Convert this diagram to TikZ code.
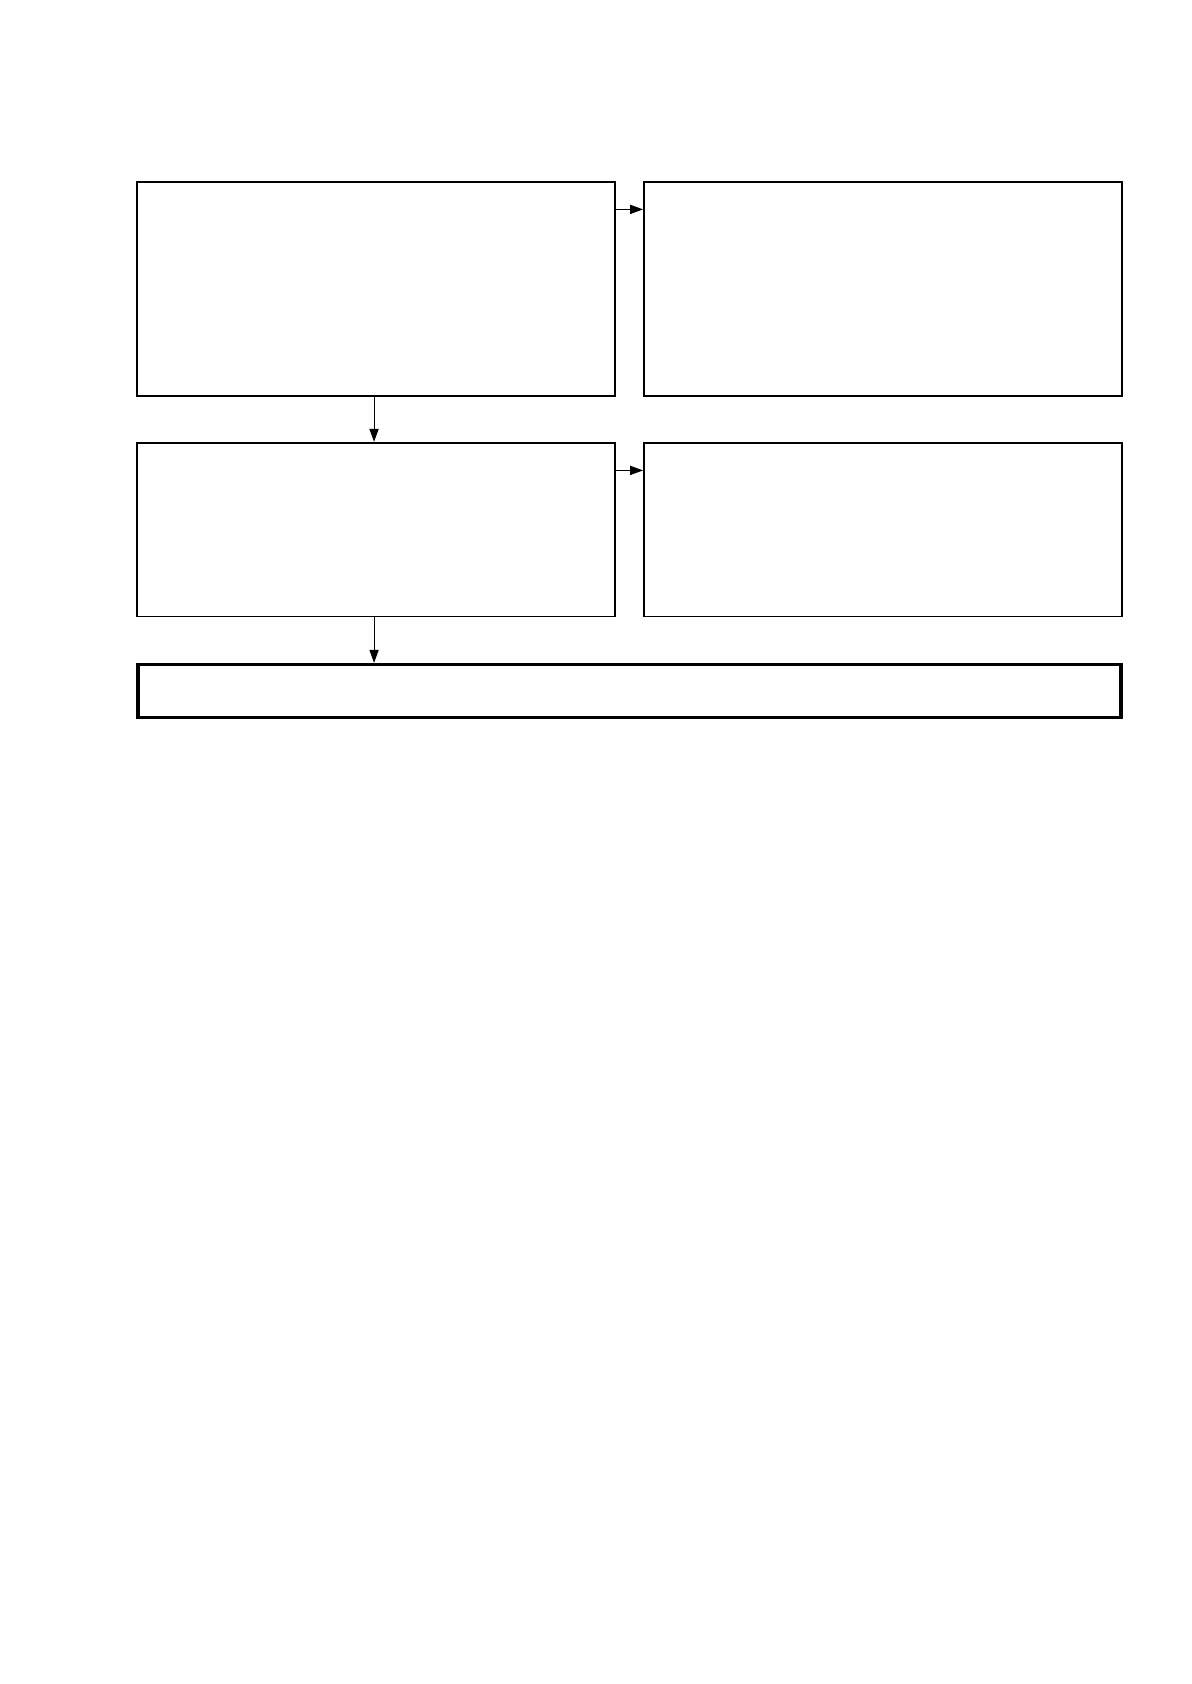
\documentclass[tikz,border=0pt]{standalone}
\usetikzlibrary{arrows.meta}
\begin{document}
\begin{tikzpicture}[>={Triangle[length=6.5pt,width=4.6pt]},x=0.5pt,y=-0.5pt,
    box/.style={draw,line width=.9pt,inner sep=0pt,minimum width=238.9pt},
    wide/.style={draw,line width=1.6pt,inner sep=0pt,minimum width=491.5pt,minimum height=26.5pt},
    link/.style={->,line width=.45pt}]
\useasboundingbox (0,0) rectangle (1191,1684);
    \node[box,minimum height=106.85pt] (tl) at (375.85,288.85) {};
    \node[box,minimum height=106.85pt] (tr) at (882.85,288.85) {};
    \node[box,minimum height=86.9pt] (ml) at (375.85,529.6) {};
    \node[box,minimum height=86.9pt] (mr) at (882.85,529.6) {};
    \node[wide] (bot) at (629.5,691) {};
\draw[link] ([yshift=-14.15pt]tl.north east)--([yshift=-14.15pt]tr.north west);
\draw[link] ([yshift=-14.3pt]ml.north east)--([yshift=-14.3pt]mr.north west);
\draw[link] ([xshift=-.9pt]tl.south)--([xshift=-.9pt]ml.north);
\draw[link] ([xshift=-.9pt]ml.south)--([xshift=-.9pt]ml.south|-bot.north);

\end{tikzpicture}
\end{document}
